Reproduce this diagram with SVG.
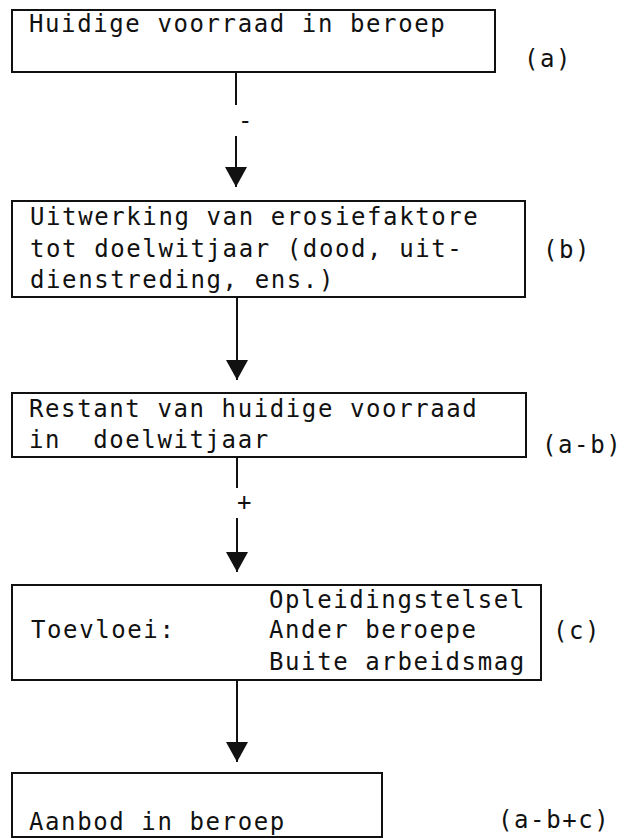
<svg xmlns="http://www.w3.org/2000/svg" width="631" height="838" viewBox="0 0 631 838">
  <defs>
    <marker id="arrow" markerUnits="userSpaceOnUse" viewBox="0 0 20 22" refX="20" refY="11" markerWidth="20" markerHeight="22" orient="auto">
      <path d="M0,0 L20,11 L0,22 z" fill="#111"/>
    </marker>
  </defs>
  <style>
    .box { fill: #fff; stroke: #111; stroke-width: 2; }
    .t { font-family: "DejaVu Sans Mono", "Liberation Mono", monospace; font-size: 24px; letter-spacing: 1.6px; fill: #111; }
    .conn { stroke: #111; stroke-width: 2; fill: none; }
  </style>
  <rect width="631" height="838" fill="#fff"/>

  <g id="node-a">
    <rect class="box" x="12" y="10" width="483" height="62"/>
    <text class="t" x="29" y="32">Huidige voorraad in beroep</text>
    <text class="t" x="524" y="67">(a)</text>
  </g>

  <g id="node-b">
    <rect class="box" x="12" y="201" width="513" height="96"/>
    <text class="t" x="30" y="225">Uitwerking van erosiefaktore</text>
    <text class="t" x="30" y="257">tot doelwitjaar (dood, uit-</text>
    <text class="t" x="30" y="288">dienstreding, ens.)</text>
    <text class="t" x="543" y="258">(b)</text>
  </g>

  <g id="node-ab">
    <rect class="box" x="12" y="393" width="514" height="64"/>
    <text class="t" x="29" y="417">Restant van huidige voorraad</text>
    <text class="t" x="29" y="448" xml:space="preserve">in  doelwitjaar</text>
    <text class="t" x="542" y="453">(a-b)</text>
  </g>

  <g id="node-c">
    <rect class="box" x="12" y="585" width="529" height="95"/>
    <text class="t" x="269" y="608">Opleidingstelsel</text>
    <text class="t" x="31" y="638">Toevloei:</text>
    <text class="t" x="269" y="638">Ander beroepe</text>
    <text class="t" x="269" y="670">Buite arbeidsmag</text>
    <text class="t" x="553" y="639">(c)</text>
  </g>

  <g id="node-abc">
    <rect class="box" x="12" y="773" width="370" height="64"/>
    <text class="t" x="29" y="830">Aanbod in beroep</text>
    <text class="t" x="498" y="828">(a-b+c)</text>
  </g>

  <g id="connectors">
    <line class="conn" x1="236" y1="73" x2="236" y2="105"/>
    <text class="t" x="238" y="129">-</text>
    <line class="conn" x1="236" y1="136" x2="236" y2="187" marker-end="url(#arrow)"/>

    <line class="conn" x1="237" y1="298" x2="237" y2="380" marker-end="url(#arrow)"/>

    <line class="conn" x1="237" y1="458" x2="237" y2="488"/>
    <text class="t" x="237" y="510">+</text>
    <line class="conn" x1="237" y1="518" x2="237" y2="572" marker-end="url(#arrow)"/>

    <line class="conn" x1="237" y1="681" x2="237" y2="762" marker-end="url(#arrow)"/>
  </g>
</svg>
